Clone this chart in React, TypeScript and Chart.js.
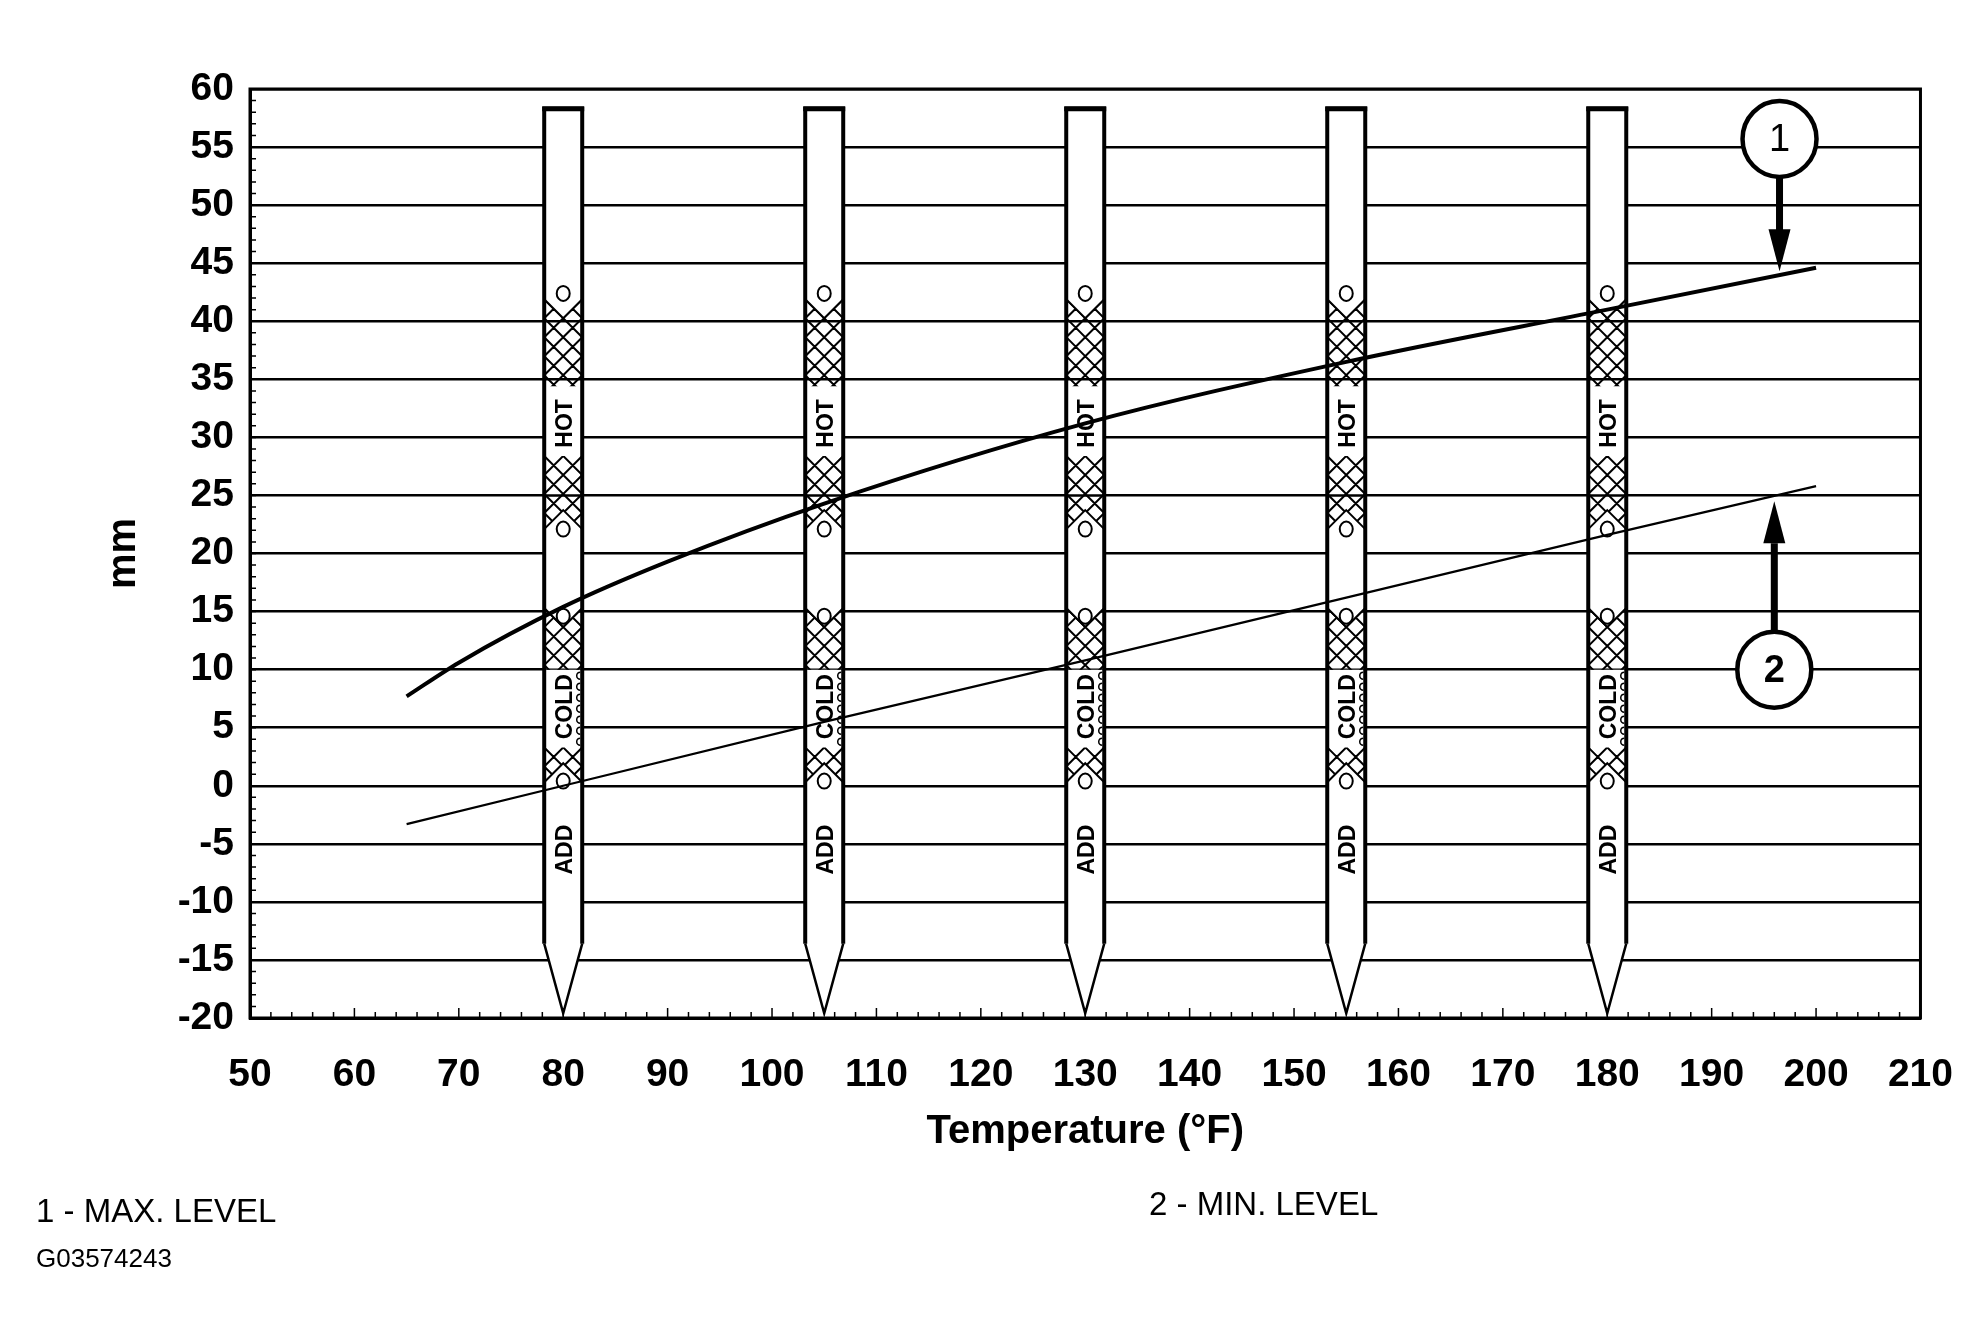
import React, { useEffect, useRef } from "react";
import { Chart, registerables } from "chart.js";

Chart.register(...registerables);

// ---- data ----
const xTickValues = [50, 60, 70, 80, 90, 100, 110, 120, 130, 140, 150, 160, 170, 180, 190, 200, 210];
const yTickValues = [-20, -15, -10, -5, 0, 5, 10, 15, 20, 25, 30, 35, 40, 45, 50, 55, 60];

const maxTemps = [65, 70, 80, 90, 105, 130, 155, 180, 200];
const maxLevels = [7.7, 10.6, 15.4, 19.3, 24.3, 31.2, 36.5, 41.0, 44.6];

const minTemps = [65, 80, 105, 130, 155, 180, 200];
const minLevels = [-3.3, 0.0, 5.5, 10.8, 16.2, 21.6, 25.8];

const dipstickTemps = [80, 105, 130, 155, 180];
const stickLevels = [58.3, -13.6, -19.6]; // top, shoulder, tip
const hatchTops = [41.9, 28.4, 15.3, 3.3];
const hatchBottoms = [34.4, 22.1, 10.0, 0.3];
const hatchNotchTop = [true, false, true, false];
const hatchNotchBottom = [false, true, false, true];
const markLevels = [42.4, 22.1, 14.6, 0.4];
const stickTexts = ["HOT", "COLD", "ADD"];
const stickTextLevels = [31.2, 6.8, -5.5];
const scallopRange = [10.0, 3.4];

const calloutLabels = ["1", "2"];
const calloutTemps = [196.5, 196.0];
const calloutLevels = [55.7, 10.0];
const calloutTips = [44.3, 24.5];

const FONT = '"Liberation Sans", Arial, Helvetica, sans-serif';

function drawDipstick(ctx: CanvasRenderingContext2D, xs: any, ys: any, t: number) {
  const cx = xs.getPixelForValue(t);
  const hw = 19;
  const l = cx - hw;
  const r = cx + hw;
  const yTop = ys.getPixelForValue(stickLevels[0]);
  const ySh = ys.getPixelForValue(stickLevels[1]);
  const yTip = ys.getPixelForValue(stickLevels[2]);

  // white body
  ctx.save();
  ctx.beginPath();
  ctx.moveTo(l, yTop);
  ctx.lineTo(r, yTop);
  ctx.lineTo(r, ySh);
  ctx.lineTo(cx, yTip);
  ctx.lineTo(l, ySh);
  ctx.closePath();
  ctx.fillStyle = "#fff";
  ctx.fill();
  ctx.restore();

  // hatch bands
  hatchTops.forEach((top, i) => {
    const yt = ys.getPixelForValue(top);
    const yb = ys.getPixelForValue(hatchBottoms[i]);
    ctx.save();
    ctx.beginPath();
    ctx.moveTo(l, yt);
    if (hatchNotchTop[i]) ctx.lineTo(cx, yt + hw);
    ctx.lineTo(r, yt);
    ctx.lineTo(r, yb);
    if (hatchNotchBottom[i]) ctx.lineTo(cx, yb - hw);
    ctx.lineTo(l, yb);
    ctx.closePath();
    ctx.clip();
    // grid lines show through hatched areas
    ctx.strokeStyle = "#000";
    ctx.lineWidth = 2.5;
    ctx.beginPath();
    yTickValues.forEach((v) => {
      const py = ys.getPixelForValue(v);
      ctx.moveTo(l, py);
      ctx.lineTo(r, py);
    });
    ctx.stroke();
    // cross hatch
    ctx.lineWidth = 2;
    ctx.beginPath();
    const d = hw;
    for (let k = -4; k <= 20; k++) {
      const y0 = yt + k * d;
      ctx.moveTo(l, y0);
      ctx.lineTo(r, y0 + 2 * hw);
      ctx.moveTo(r, y0);
      ctx.lineTo(l, y0 + 2 * hw);
    }
    ctx.stroke();
    ctx.restore();
    // notch edges
    ctx.save();
    ctx.strokeStyle = "#000";
    ctx.lineWidth = 2;
    ctx.beginPath();
    if (hatchNotchTop[i]) {
      ctx.moveTo(l, yt);
      ctx.lineTo(cx, yt + hw);
      ctx.lineTo(r, yt);
    }
    if (hatchNotchBottom[i]) {
      ctx.moveTo(l, yb);
      ctx.lineTo(cx, yb - hw);
      ctx.lineTo(r, yb);
    }
    ctx.stroke();
    ctx.restore();
  });

  // small circles
  ctx.save();
  ctx.strokeStyle = "#000";
  ctx.lineWidth = 2;
  markLevels.forEach((v) => {
    const py = ys.getPixelForValue(v);
    ctx.beginPath();
    ctx.ellipse(cx, py, 6.5, 7.5, 0, 0, Math.PI * 2);
    ctx.fillStyle = "#fff";
    ctx.fill();
    ctx.stroke();
  });
  ctx.restore();

  // scallops on the right inner edge of the COLD label
  ctx.save();
  ctx.strokeStyle = "#000";
  ctx.lineWidth = 1.5;
  const s0 = ys.getPixelForValue(scallopRange[0]);
  const s1 = ys.getPixelForValue(scallopRange[1]);
  for (let py = s0 + 6; py < s1 - 3; py += 11) {
    ctx.beginPath();
    ctx.arc(r - 2, py, 3.5, Math.PI * 0.5, Math.PI * 1.5);
    ctx.stroke();
  }
  ctx.restore();

  // rotated labels
  stickTexts.forEach((txt, i) => {
    const py = ys.getPixelForValue(stickTextLevels[i]);
    ctx.save();
    ctx.translate(cx + 1, py);
    ctx.rotate(-Math.PI / 2);
    ctx.font = `bold 23px ${FONT}`;
    ctx.fillStyle = "#000";
    ctx.textAlign = "center";
    ctx.textBaseline = "middle";
    ctx.fillText(txt, 0, 1);
    ctx.restore();
  });

  // outline
  ctx.save();
  ctx.strokeStyle = "#000";
  ctx.lineJoin = "miter";
  ctx.lineWidth = 4;
  ctx.beginPath();
  ctx.moveTo(l, ySh);
  ctx.lineTo(l, yTop);
  ctx.lineTo(r, yTop);
  ctx.lineTo(r, ySh);
  ctx.stroke();
  ctx.lineWidth = 2.5;
  ctx.beginPath();
  ctx.moveTo(r, ySh);
  ctx.lineTo(cx, yTip);
  ctx.lineTo(l, ySh);
  ctx.stroke();
  ctx.lineWidth = 5;
  ctx.beginPath();
  ctx.moveTo(l - 2, yTop);
  ctx.lineTo(r + 2, yTop);
  ctx.stroke();
  ctx.restore();
}

function drawCallout(ctx: CanvasRenderingContext2D, xs: any, ys: any, i: number) {
  const cx = xs.getPixelForValue(calloutTemps[i]);
  const cy = ys.getPixelForValue(calloutLevels[i]);
  const tip = ys.getPixelForValue(calloutTips[i]);
  const rad = 38;
  const dir = tip > cy ? 1 : -1;
  const start = cy + dir * rad;
  const headLen = 42;
  const headHalf = 11;
  const base = tip - dir * headLen;
  ctx.save();
  ctx.fillStyle = "#000";
  // shaft
  ctx.fillRect(cx - 3.5, Math.min(start, base), 7, Math.abs(base - start) + 2);
  // head
  ctx.beginPath();
  ctx.moveTo(cx - headHalf, base);
  ctx.lineTo(cx + headHalf, base);
  ctx.lineTo(cx, tip);
  ctx.closePath();
  ctx.fill();
  // circle
  ctx.beginPath();
  ctx.ellipse(cx, cy, rad - 1, rad, 0, 0, Math.PI * 2);
  ctx.fillStyle = "#fff";
  ctx.fill();
  ctx.lineWidth = 4.5;
  ctx.strokeStyle = "#000";
  ctx.stroke();
  ctx.fillStyle = "#000";
  ctx.font = `${i === 0 ? "normal" : "bold"} 38px ${FONT}`;
  ctx.textAlign = "center";
  ctx.textBaseline = "middle";
  ctx.fillText(calloutLabels[i], cx, cy + 2);
  ctx.restore();
}

const decorPlugin = {
  id: "decor",
  beforeDatasetsDraw(chart: any) {
    const { ctx, scales } = chart;
    ctx.save();
    dipstickTemps.forEach((t) => drawDipstick(ctx, scales.x, scales.y, t));
    ctx.restore();
  },
  afterDatasetsDraw(chart: any) {
    const { ctx, scales, chartArea } = chart;
    const xs = scales.x;
    const ys = scales.y;
    ctx.save();
    // minor ticks on the left
    ctx.strokeStyle = "#000";
    ctx.lineWidth = 1.5;
    ctx.beginPath();
    for (let v = -20; v <= 60; v += 1) {
      const py = ys.getPixelForValue(v);
      ctx.moveTo(chartArea.left, py);
      ctx.lineTo(chartArea.left + 6, py);
    }
    for (let t = 50; t <= 210; t += 2) {
      const px = xs.getPixelForValue(t);
      ctx.moveTo(px, chartArea.bottom);
      ctx.lineTo(px, chartArea.bottom - (t % 10 === 0 ? 10 : 6));
    }
    ctx.stroke();
    // frame
    ctx.lineWidth = 3;
    ctx.strokeRect(chartArea.left, chartArea.top, chartArea.right - chartArea.left, chartArea.bottom - chartArea.top);
    ctx.restore();
    calloutLabels.forEach((_, i) => drawCallout(ctx, xs, ys, i));
  },
};

export default function App() {
  const ref = useRef<HTMLCanvasElement | null>(null);

  useEffect(() => {
    document.body.style.margin = "0";
    document.body.style.overflow = "hidden";
    document.body.style.background = "#fff";
    if (!ref.current) return;
    const chart = new Chart(ref.current, {
      type: "line",
      data: {
        datasets: [
          {
            label: "MAX. LEVEL",
            data: maxTemps.map((t, i) => ({ x: t, y: maxLevels[i] })),
            borderColor: "#000",
            borderWidth: 4,
            pointRadius: 0,
            cubicInterpolationMode: "monotone",
            fill: false,
          },
          {
            label: "MIN. LEVEL",
            data: minTemps.map((t, i) => ({ x: t, y: minLevels[i] })),
            borderColor: "#000",
            borderWidth: 2.2,
            pointRadius: 0,
            tension: 0,
            fill: false,
          },
        ],
      },
      options: {
        animation: false,
        responsive: false,
        events: [],
        layout: { padding: { left: 100, top: 89, right: 59, bottom: 186 } },
        plugins: {
          legend: { display: false },
          tooltip: { enabled: false },
        },
        scales: {
          x: {
            type: "linear",
            min: 50,
            max: 210,
            afterBuildTicks: (s: any) => {
              s.ticks = xTickValues.map((v) => ({ value: v }));
            },
            afterFit: (s: any) => {
              s.height = 138;
            },
            grid: { display: false, drawTicks: false },
            border: { display: true, color: "#000", width: 3 },
            ticks: {
              color: "#000",
              padding: 34,
              maxRotation: 0,
              autoSkip: false,
              font: { family: FONT, size: 39, weight: "bold" },
              callback: (v: any) => String(v),
            },
            title: {
              display: true,
              text: "Temperature (°F)",
              color: "#000",
              padding: 0,
              font: { family: FONT, size: 40, weight: "bold" },
            },
          },
          y: {
            type: "linear",
            min: -20,
            max: 60,
            afterBuildTicks: (s: any) => {
              s.ticks = yTickValues.map((v) => ({ value: v }));
            },
            afterFit: (s: any) => {
              s.width = 150;
            },
            grid: { color: "#000", lineWidth: 2.5, drawTicks: false },
            border: { display: true, color: "#000", width: 3 },
            ticks: {
              color: "#000",
              padding: 16,
              autoSkip: false,
              font: { family: FONT, size: 39, weight: "bold" },
              callback: (v: any) => String(v),
            },
            title: {
              display: true,
              text: "mm",
              color: "#000",
              padding: 0,
              font: { family: FONT, size: 40, weight: "bold" },
            },
          },
        },
      },
      plugins: [decorPlugin],
    } as any);
    return () => chart.destroy();
  }, []);

  const note: React.CSSProperties = {
    position: "absolute",
    fontFamily: FONT,
    color: "#000",
    lineHeight: 1,
    whiteSpace: "nowrap",
  };

  return (
    <div style={{ position: "relative", width: 1987, height: 1342, background: "#fff" }}>
      <canvas ref={ref} width={1987} height={1342} style={{ display: "block", width: 1987, height: 1342 }} />
      <div style={{ ...note, left: 36, top: 1194, fontSize: 33 }}>1 - MAX. LEVEL</div>
      <div style={{ ...note, left: 1149, top: 1187, fontSize: 33 }}>2 - MIN. LEVEL</div>
      <div style={{ ...note, left: 36, top: 1245, fontSize: 26 }}>G03574243</div>
    </div>
  );
}
